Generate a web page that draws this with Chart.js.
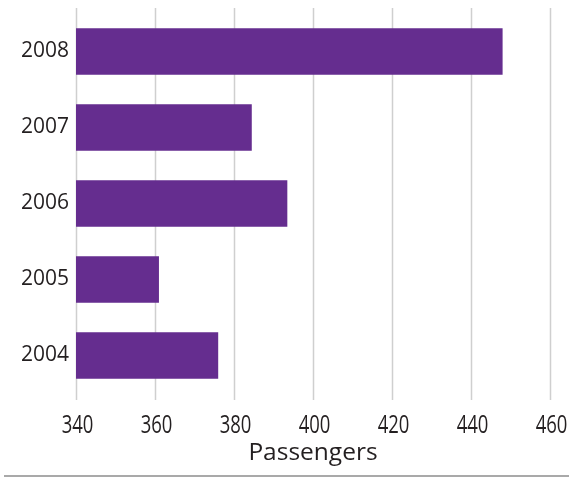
<!DOCTYPE html>
<html>
<head>
<meta charset="utf-8">
<script src="https://cdn.jsdelivr.net/npm/chart.js@4/dist/chart.umd.min.js"></script>
<style>
  html, body { margin: 0; padding: 0; background: #fff; }
  #wrap { width: 571px; height: 477px; position: relative; }
</style>
</head>
<body>
<div id="wrap"><canvas id="chart"></canvas></div>
<script>
// dados
const years = ['2008', '2007', '2006', '2005', '2004'];
const passengers = [448, 384.5, 393.5, 361, 376];
const xTicksMin = 340;
const xTicksMax = 460;
const xStep = 20;

const PURPLE = '#652d8f';
const GRID = '#cfcfcf';
const TEXT = '#231f20';

// grade mais longa que a area das barras, rotulos do eixo x condensados e linha de base
const gridPlugin = {
  id: 'gridExt',
  beforeDatasetsDraw(chart) {
    const { ctx, chartArea, scales } = chart;
    ctx.save();
    ctx.strokeStyle = GRID;
    ctx.lineWidth = 1.5;
    scales.x.ticks.forEach((t) => {
      const x = Math.round(scales.x.getPixelForValue(t.value)) + 0.5;
      ctx.beginPath();
      ctx.moveTo(x, chartArea.top - 5.5);
      ctx.lineTo(x, chartArea.bottom + 6.5);
      ctx.stroke();
    });
    ctx.restore();
  },
  afterDraw(chart) {
    const { ctx, chartArea, scales } = chart;
    ctx.save();
    ctx.fillStyle = TEXT;
    ctx.font = "25px 'Open Sans', sans-serif";
    ctx.textAlign = 'center';
    ctx.textBaseline = 'alphabetic';
    scales.x.ticks.forEach((t) => {
      const x = scales.x.getPixelForValue(t.value) + 1.5;
      ctx.save();
      ctx.translate(x, chartArea.bottom + 39.5);
      ctx.scale(0.74, 1);
      ctx.fillText(String(t.value), 0, 0);
      ctx.restore();
    });
    ctx.strokeStyle = '#8c8c8c';
    ctx.lineWidth = 1.5;
    ctx.beginPath();
    ctx.moveTo(4, 476);
    ctx.lineTo(569, 476);
    ctx.stroke();
    ctx.restore();
  },
};

new Chart(document.getElementById('chart'), {
  type: 'bar',
  data: {
    labels: years,
    datasets: [{
      data: passengers,
      backgroundColor: PURPLE,
      borderWidth: 0,
      barPercentage: 0.614,
      categoryPercentage: 1,
    }],
  },
  options: {
    indexAxis: 'y',
    responsive: true,
    maintainAspectRatio: false,
    animation: false,
    layout: { padding: { top: 13.5, right: 21, left: 0, bottom: 0 } },
    plugins: { legend: { display: false }, tooltip: { enabled: false } },
    scales: {
      x: {
        min: xTicksMin, max: xTicksMax,
        ticks: { stepSize: xStep, display: false },
        grid: { display: false, drawTicks: false },
        border: { display: false },
        title: { display: true, text: 'Passengers', color: TEXT,
          font: { family: "'Open Sans', sans-serif", size: 24.5 }, padding: { top: 0, bottom: 9 } },
        afterFit(s) { s.height = 477 - 393.5; s.paddingLeft = 0; s.paddingRight = 0; },
      },
      y: {
        ticks: { color: TEXT, padding: 7,
          font: { family: "'Open Sans', sans-serif", size: 21 } },
        grid: { display: false, drawTicks: false },
        border: { display: false },
        afterFit(s) { s.width = 76; s.paddingTop = 0; s.paddingBottom = 0; },
      },
    },
  },
  plugins: [gridPlugin],
});
</script>
</body>
</html>
